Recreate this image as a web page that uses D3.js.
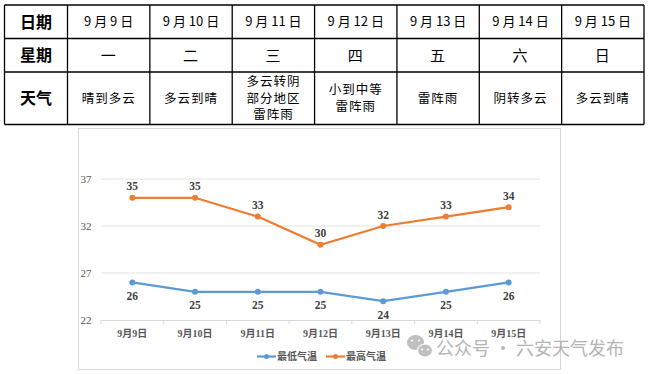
<!DOCTYPE html>
<html>
<head>
<meta charset="utf-8">
<script src="https://cdn.jsdelivr.net/npm/d3@7"></script>
<style>
  body { margin: 0; background: #fff; }
  svg { display: block; }
</style>
</head>
<body>
<svg id="chart" width="648" height="374"></svg>
<script>
// values
var days = ['9月9日', '9月10日', '9月11日', '9月12日', '9月13日', '9月14日', '9月15日'];
var tableDays = ['9 月 9 日', '9 月 10 日', '9 月 11 日', '9 月 12 日', '9 月 13 日', '9 月 14 日', '9 月 15 日'];
var weekdays = ['一', '二', '三', '四', '五', '六', '日'];
var weather = ['晴到多云', '多云到晴', '多云转阴\n部分地区\n雷阵雨', '小到中等\n雷阵雨', '雷阵雨', '阴转多云', '多云到晴'];
var rowHeads = ['日期', '星期', '天气'];
var lowTemps = [26, 25, 25, 25, 24, 25, 26];
var highTemps = [35, 35, 33, 30, 32, 33, 34];
var yTicks = [22, 27, 32, 37];
var seriesNames = ['最低气温', '最高气温'];
var seriesColors = ['#5b9bd5', '#ed7d31'];

var svg = d3.select('#chart');
var cjk = '"Noto Sans CJK SC", "Noto Sans", sans-serif';
var serif = '"Liberation Serif", "Times New Roman", "Noto Sans CJK SC", serif';

// ---- table ----
var tLeft = 4.5, tRight = 644, headW = 63;
var rowY = [5, 38.5, 72, 124.5];
var colX = d3.scaleBand().domain(d3.range(7)).range([tLeft + headW, tRight]);

var table = svg.append('g').attr('class', 'table');
var rows = [tableDays, weekdays, weather];

rows.forEach(function(row, r) {
  var y0 = rowY[r], y1 = rowY[r + 1];
  table.append('text')
    .attr('x', tLeft + headW / 2)
    .attr('y', (y0 + y1) / 2)
    .attr('dy', '0.36em')
    .attr('text-anchor', 'middle')
    .style('font-family', cjk)
    .style('font-weight', 'bold')
    .style('font-size', '16px')
    .text(rowHeads[r]);

  row.forEach(function(v, i) {
    var lines = v.split('\n');
    var lh = 16.7;
    var cx = colX(i) + colX.bandwidth() / 2;
    var fs = r === 1 ? '15px' : (r === 2 ? '12.5px' : '13px');
    lines.forEach(function(l, k) {
      table.append('text')
        .attr('x', cx)
        .attr('y', (y0 + y1) / 2 + (k - (lines.length - 1) / 2) * lh)
        .attr('dy', '0.36em')
        .attr('text-anchor', 'middle')
        .style('font-family', cjk)
        .style('font-size', fs)
        .style('letter-spacing', r === 0 ? '0px' : '1px')
        .attr('fill', '#000')
        .text(l);
    });
  });
});

// grid lines of the table
rowY.forEach(function(y) {
  table.append('line')
    .attr('x1', tLeft).attr('x2', tRight)
    .attr('y1', y).attr('y2', y)
    .attr('stroke', '#000').attr('stroke-width', 1.3);
});
[tLeft, tLeft + headW].concat(d3.range(7).map(function(i) { return colX(i) + colX.bandwidth(); })).forEach(function(x) {
  table.append('line')
    .attr('x1', x).attr('x2', x)
    .attr('y1', rowY[0]).attr('y2', rowY[3])
    .attr('stroke', '#000').attr('stroke-width', 1.3);
});

// ---- chart ----
var frame = {x: 78.5, y: 128.5, w: 482, h: 241};
svg.append('rect')
  .attr('x', frame.x).attr('y', frame.y)
  .attr('width', frame.w).attr('height', frame.h)
  .attr('fill', '#fff').attr('stroke', '#d9d9d9');

var x = d3.scaleBand().domain(days).range([101, 540]);
var y = d3.scaleLinear().domain([22, 37]).range([320, 179]);

var chart = svg.append('g').attr('class', 'plot');

chart.selectAll('.grid')
  .data(yTicks.slice(1))
  .enter().append('line')
  .attr('x1', 101).attr('x2', 540)
  .attr('y1', function(d) { return y(d); })
  .attr('y2', function(d) { return y(d); })
  .attr('stroke', '#e3e3e3').attr('stroke-width', 1);

chart.selectAll('.ylab')
  .data(yTicks)
  .enter().append('text')
  .attr('x', 86)
  .attr('y', function(d) { return y(d); })
  .attr('dy', '0.33em')
  .attr('text-anchor', 'middle')
  .style('font-family', serif)
  .style('font-size', '11px')
  .attr('fill', '#595959')
  .text(function(d) { return d; });

var xAxis = chart.append('g')
  .attr('transform', 'translate(0,' + y(22) + ')')
  .call(d3.axisBottom(x).tickSize(0).tickPadding(10));
xAxis.select('.domain').attr('stroke', '#d9d9d9');
xAxis.selectAll('text')
  .style('font-family', serif)
  .style('font-size', '10px')
  .style('font-weight', 'bold')
  .attr('fill', '#595959');
// ticks on the band edges
chart.selectAll('.xtick')
  .data(d3.range(days.length + 1))
  .enter().append('line')
  .attr('x1', function(i) { return 101 + i * x.step(); })
  .attr('x2', function(i) { return 101 + i * x.step(); })
  .attr('y1', y(22)).attr('y2', y(22) + 4)
  .attr('stroke', '#d9d9d9');

var line = d3.line()
  .x(function(d, i) { return x(days[i]) + x.bandwidth() / 2; })
  .y(function(d) { return y(d); });

[lowTemps, highTemps].forEach(function(series, s) {
  var g = chart.append('g');
  g.append('path')
    .datum(series)
    .attr('d', line)
    .attr('fill', 'none')
    .attr('stroke', seriesColors[s])
    .attr('stroke-width', 2.2);
  g.selectAll('circle')
    .data(series)
    .enter().append('circle')
    .attr('cx', function(d, i) { return x(days[i]) + x.bandwidth() / 2; })
    .attr('cy', function(d) { return y(d); })
    .attr('r', 3)
    .attr('fill', seriesColors[s]);
  g.selectAll('text')
    .data(series)
    .enter().append('text')
    .attr('x', function(d, i) { return x(days[i]) + x.bandwidth() / 2; })
    .attr('y', function(d) { return y(d) + (s === 0 ? 13.5 : -11.5); })
    .attr('dy', '0.35em')
    .attr('text-anchor', 'middle')
    .style('font-family', serif)
    .style('font-size', '11.5px')
    .style('font-weight', 'bold')
    .attr('fill', '#404040')
    .text(function(d) { return d; });
});

// legend
var legendX = [257, 326];
seriesNames.forEach(function(name, s) {
  var lg = svg.append('g').attr('transform', 'translate(' + legendX[s] + ',356.5)');
  lg.append('line')
    .attr('x1', 0).attr('x2', 19)
    .attr('stroke', seriesColors[s]).attr('stroke-width', 2.2);
  lg.append('circle').attr('cx', 9.5).attr('r', 2.5).attr('fill', seriesColors[s]);
  lg.append('text')
    .attr('x', 20).attr('dy', '0.35em')
    .style('font-family', serif)
    .style('font-size', '10px')
    .style('font-weight', 'bold')
    .attr('fill', '#595959')
    .text(name);
});

// watermark
var wm = svg.append('g').attr('opacity', 0.85);
wm.append('ellipse').attr('cx', 415.5).attr('cy', 342.5).attr('rx', 8.5).attr('ry', 7.5).attr('fill', '#b4b4b4');
wm.append('ellipse').attr('cx', 425).attr('cy', 350.5).attr('rx', 7.5).attr('ry', 6.5).attr('fill', '#b4b4b4').attr('stroke', '#fff').attr('stroke-width', 1.2);
[[412, 340.5], [419, 340.5], [422, 349.5], [428, 349.5]].forEach(function(p) {
  wm.append('circle').attr('cx', p[0]).attr('cy', p[1]).attr('r', 1.1).attr('fill', '#fff');
});
wm.append('text')
  .attr('x', 436).attr('y', 349).attr('dy', '0.35em')
  .style('font-family', cjk)
  .style('font-size', '18px')
  .attr('fill', '#a8a8a8')
  .text('公众号 · 六安天气发布');
</script>
</body>
</html>
